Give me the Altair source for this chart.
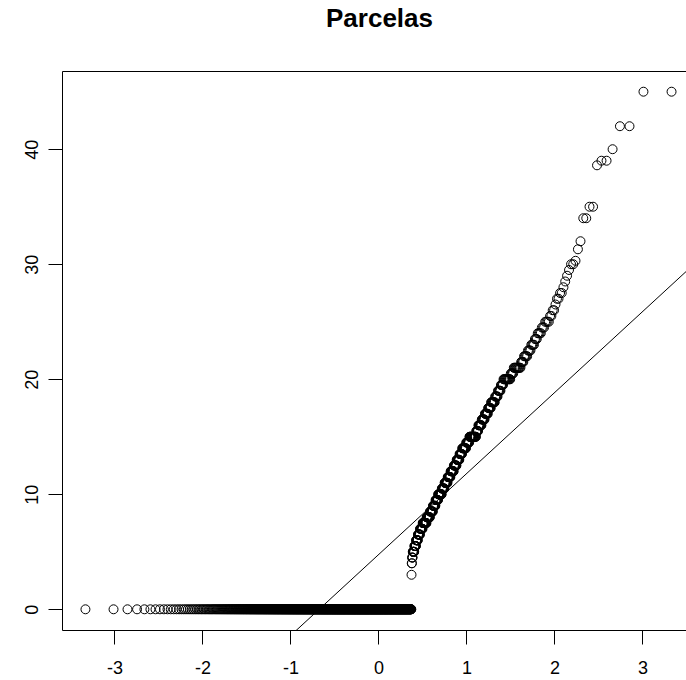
import altair as alt
import numpy as np
import pandas as pd
from statistics import NormalDist

# Sorted sample: distinct values and how many observations take each one
VALUES = [0, 3, 4, 4.5, 5, 5.5, 6, 6.5, 7, 7.5, 8, 8.5, 9, 9.5, 10, 10.5, 11,
          11.5, 12, 12.5, 13, 13.5, 14, 14.5, 15, 15.5, 16, 16.5, 17, 17.5, 18,
          18.5, 19, 19.5, 20, 20.5, 21, 21.5, 22, 22.5, 23, 23.5, 24, 24.5, 25,
          25.5, 26, 26.5, 27, 27.5, 28, 28.5, 29, 29.5, 30, 30.3, 31.3, 32, 34,
          35, 38.6, 39, 40, 42, 45]
COUNTS = [744, 1, 2, 3, 8, 8, 9, 10, 12, 18, 15, 13, 11, 11, 15, 11, 12,
          11, 12, 10, 10, 9, 13, 10, 20, 6, 9, 8, 8, 7, 9,
          6, 6, 5, 13, 5, 11, 4, 5, 4, 4, 3, 4, 3, 4,
          2, 2, 1, 2, 2, 1, 1, 1, 1, 2, 1, 1, 1, 2,
          2, 1, 2, 1, 2, 2]

X_TICKS = [-3, -2, -1, 0, 1, 2, 3]
Y_TICKS = [0, 10, 20, 30, 40]

sample = np.repeat(np.array(VALUES, dtype=float), COUNTS)
n = len(sample)
norm = NormalDist()

# Normal Q-Q: theoretical quantiles at plotting positions (i - 0.5) / n
theo = [norm.inv_cdf((i - 0.5) / n) for i in range(1, n + 1)]
points = pd.DataFrame({"theoretical": theo, "sample": sample})

# Reference line through the first and third quartiles
q1, q3 = np.percentile(sample, [25, 75])
z1, z3 = norm.inv_cdf(0.25), norm.inv_cdf(0.75)
slope = (q3 - q1) / (z3 - z1)
intercept = q1 - slope * z1

# Axis limits extended by 4% on each side of the data range
xr = theo[-1] - theo[0]
x_lo, x_hi_full = theo[0] - 0.04 * xr, theo[-1] + 0.04 * xr
yr = sample.max() - sample.min()
y_lo, y_hi = sample.min() - 0.04 * yr, sample.max() + 0.04 * yr

PX_PER_UNIT = 88.0
W, H = 624, 559
x_hi = x_lo + W / PX_PER_UNIT

line = pd.DataFrame({"theoretical": [x_lo, x_hi_full],
                     "sample": [intercept + slope * x_lo, intercept + slope * x_hi_full]})

FONT = "Liberation Sans"
HYPHEN = "replace(datum.label, '\u2212', '-')"
xscale = alt.Scale(domain=[x_lo, x_hi], nice=False, zero=False)
yscale = alt.Scale(domain=[y_lo, y_hi], nice=False, zero=False)

pts = alt.Chart(points).mark_point(
    shape="circle", filled=False, size=80, stroke="black", strokeWidth=1, opacity=1
).encode(
    x=alt.X("theoretical:Q", scale=xscale,
            axis=alt.Axis(values=X_TICKS, title=None, grid=False, domain=True,
                          domainColor="black", tickColor="black", tickSize=14,
                          labelFont=FONT, labelFontSize=18, labelColor="black",
                          labelPadding=15, labelBaseline="top", labelFlush=False,
                          labelExpr=HYPHEN)),
    y=alt.Y("sample:Q", scale=yscale,
            axis=alt.Axis(values=Y_TICKS, title=None, grid=False, domain=True,
                          domainColor="black", tickColor="black", tickSize=14,
                          labelFont=FONT, labelFontSize=18, labelColor="black",
                          labelAngle=270, labelAlign="center",
                          labelBaseline="alphabetic", labelPadding=11,
                          labelFlush=False)),
)

ref = alt.Chart(line).mark_line(color="black", strokeWidth=1, clip=True).encode(
    x=alt.X("theoretical:Q", scale=xscale,
            axis=alt.Axis(orient="top", labels=False, ticks=False, title=None,
                          grid=False, domain=True, domainColor="black")),
    y=alt.Y("sample:Q", scale=yscale, axis=None),
)

chart = alt.layer(pts, ref).resolve_axis(x="independent", y="independent").properties(
    width=W, height=H,
    autosize=alt.AutoSizeParams(type="none"),
    padding={"left": 62, "top": 71, "right": 0, "bottom": 50},
    background="white",
    title=alt.TitleParams("Parcelas", font=FONT, fontSize=26, fontWeight="bold",
                          color="black", anchor="middle", dx=5.5,
                          baseline="alphabetic", offset=18),
).configure_view(stroke=None)

chart.save("out.html", embed_options={"renderer": "svg", "actions": False})
